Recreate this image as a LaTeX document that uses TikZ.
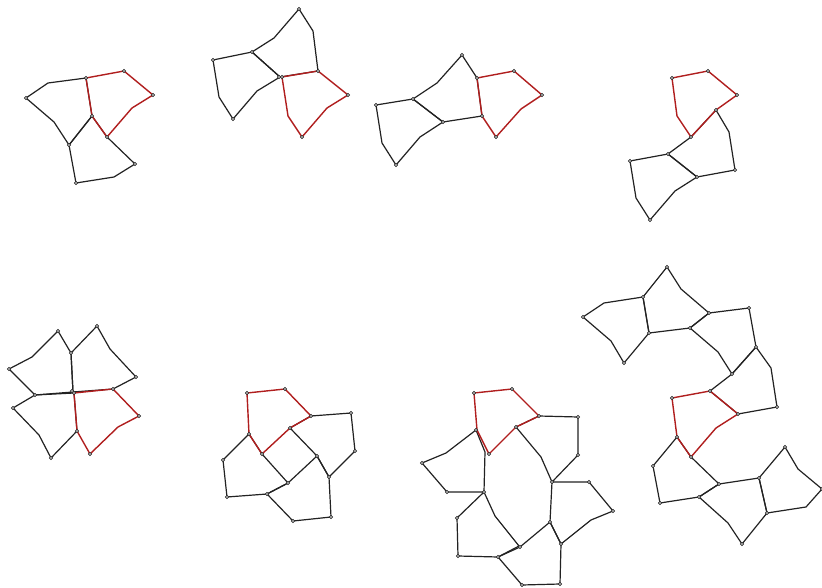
\documentclass[tikz,border=0pt]{standalone}
\usepackage{xcolor}
\definecolor{cInk}{HTML}{222222}
\definecolor{cRed}{HTML}{B01E1E}
\tikzset{
  tblack/.style={draw=cInk,line width=1.2pt,line join=round},
  tred/.style={draw=cRed,line width=1.4pt,line join=round},
  vtx/.style={draw=cInk,fill=white,line width=0.6pt},
}
\newcommand{\tile}[2][tblack]{\draw[#1] plot coordinates {#2} -- cycle;}
\begin{document}
\begin{tikzpicture}[x=1pt,y=-1pt]
  \useasboundingbox (0,0) rectangle (822,588);
  % top row
  \tile{(86,78) (48,83) (26,98) (54,122) (69,145) (92,116)}
  \tile{(69,145) (76,183) (114,177) (135,164) (107,137) (92,116)}
  \tile[tred]{(86,78) (124,71) (153,95) (132,108) (107,137) (92,116)}
  \foreach \p in {(86,78),(124,71),(153,95),(107,137),(92,116),(26,98),(69,145),(76,183),(135,164)}{\draw[vtx] \p circle (1.6);}

  \tile{(280,77) (252,52) (274,38) (299,9) (313,31) (318,71)}
  \tile{(252,52) (213,60) (219,97) (233,119) (257,91) (280,77)}
  \tile[tred]{(282,77) (318,71) (348,95) (327,108) (302,137) (288,116)}
  \foreach \p in {(282,77),(279,77),(318,71),(348,95),(302,137),(252,52),(299,9),(213,60),(233,119)}{\draw[vtx] \p circle (1.6);}

  \tile{(477,78) (462,55) (437,83) (413,99) (443,122) (482,116)}
  \tile{(413,99) (376,105) (382,143) (396,165) (420,137) (443,122)}
  \tile[tred]{(477,78) (514,71) (542,95) (521,109) (496,137) (482,116)}
  \foreach \p in {(477,78),(514,71),(542,95),(496,137),(482,116),(462,55),(413,99),(443,122),(376,105),(396,165)}{\draw[vtx] \p circle (1.6);}

  \tile{(716,110) (729,132) (735,170) (697,177) (668,154) (691,137)}
  \tile{(668,154) (630,161) (636,198) (650,220) (675,191) (697,177)}
  \tile[tred]{(672,78) (708,71) (737,95) (716,110) (691,137) (677,116)}
  \foreach \p in {(672,78),(708,71),(737,95),(691,137),(716,110),(735,170),(697,177),(668,154),(630,161),(650,220)}{\draw[vtx] \p circle (1.6);}

  % bottom row
  \tile{(73,392) (71,353) (97,326) (110,349) (136,377) (113,389)}
  \tile{(71,353) (58,331) (32,357) (9,369) (35,395) (73,392)}
  \tile{(35,395) (13,408) (39,435) (51,458) (77,431) (74,393)}
  \tile[tred]{(74,393) (113,389) (139,416) (118,427) (90,454) (77,431)}
  \foreach \p in {(74,393),(72,391),(113,389),(139,416),(90,454),(77,431),(71,353),(97,326),(136,377),(58,331),(9,369),(35,395),(13,408),(51,458)}{\draw[vtx] \p circle (1.6);}

  \tile{(311,416) (351,413) (355,451) (329,477) (317,456) (290,428)}
  \tile{(249,434) (223,460) (227,497) (267,494) (288,483) (262,454)}
  \tile{(267,494) (293,521) (331,517) (329,477) (317,456) (288,483)}
  \tile[tred]{(247,393) (285,389) (311,416) (290,428) (262,454) (249,434)}
  \foreach \p in {(247,393),(285,389),(311,416),(262,454),(249,434),(351,413),(355,451),(329,477),(317,456),(290,428),(223,460),(227,497),(267,494),(288,483),(293,521),(331,517)}{\draw[vtx] \p circle (1.6);}

  \tile{(539,416) (578,417) (578,455) (552,482) (541,457) (516,427)}
  \tile{(476,430) (446,453) (422,463) (447,492) (484,492) (485,452)}
  \tile{(552,482) (589,482) (613,511) (591,520) (561,544) (550,522)}
  \tile{(561,544) (560,584) (522,585) (498,557) (520,547) (550,522)}
  \tile{(484,492) (457,518) (458,556) (498,557) (519,546) (495,516)}
  \tile[tred]{(474,393) (512,389) (539,416) (516,427) (489,454) (477,430)}
  \foreach \p in {(474,393),(512,389),(539,416),(489,454),(476,430),(516,427),(578,417),(578,455),(552,482),(589,482),(613,511),(561,544),(550,522),(560,584),(522,585),(498,557),(520,547),(484,492),(447,492),(422,463),(457,518),(458,556)}{\draw[vtx] \p circle (1.6);}

  \tile{(710,391) (732,374) (756,347) (771,368) (777,407) (738,414)}
  \tile{(756,347) (749,308) (709,313) (690,328) (718,352) (732,374)}
  \tile{(709,313) (681,289) (667,267) (643,297) (649,333) (690,328)}
  \tile{(643,297) (604,303) (583,317) (611,341) (624,363) (649,333)}
  \tile{(677,437) (653,466) (660,503) (699,497) (719,484) (691,457)}
  \tile{(719,484) (759,478) (767,513) (742,544) (728,523) (699,497)}
  \tile{(759,478) (785,447) (798,469) (822,489) (806,507) (767,513)}
  \tile[tred]{(672,398) (710,391) (738,414) (716,428) (691,457) (677,437)}
  \foreach \p in {(672,398),(710,391),(738,414),(691,457),(677,437),(732,374),(756,347),(777,407),(749,308),(709,313),(690,328),(667,267),(643,297),(649,333),(583,317),(624,363),(653,466),(660,503),(699,497),(719,484),(759,478),(767,513),(742,544),(785,447),(822,489)}{\draw[vtx] \p circle (1.6);}
\end{tikzpicture}
\end{document}
